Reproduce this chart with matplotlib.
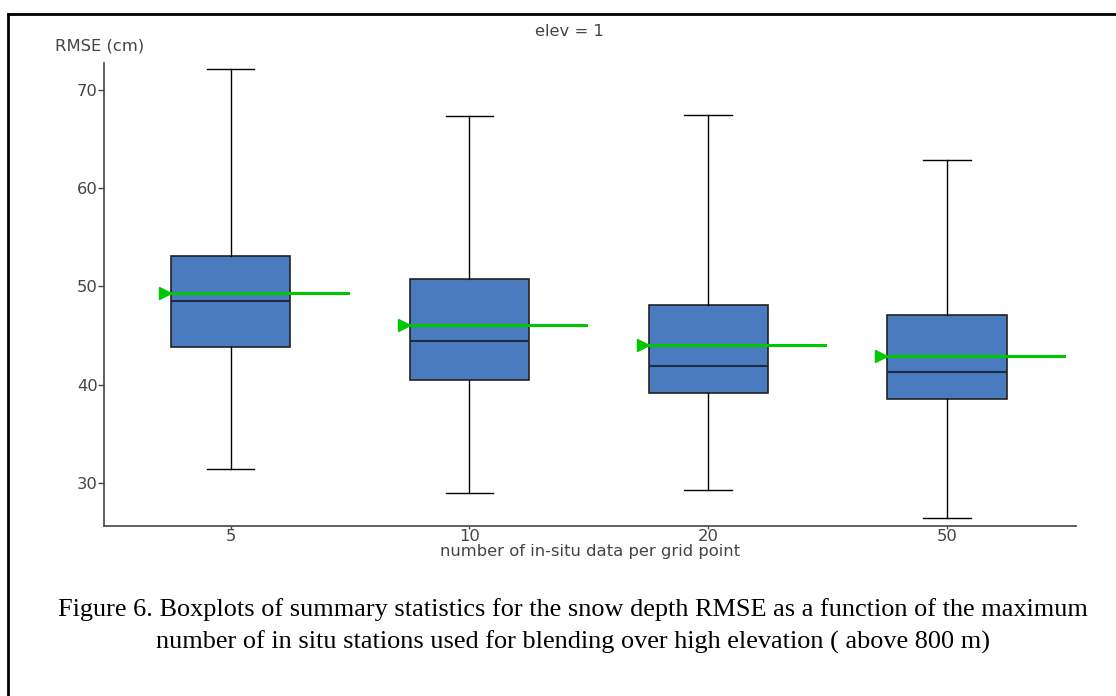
import matplotlib.pyplot as plt
from matplotlib.lines import Line2D

plt.rcParams['font.family'] = 'DejaVu Sans'

categories = ['5', '10', '20', '50']
whislo = [31.4, 29.0, 29.3, 26.4]
q1 = [43.8, 40.5, 39.1, 38.5]
med = [48.5, 44.4, 41.9, 41.3]
q3 = [53.1, 50.8, 48.1, 47.1]
whishi = [72.1, 67.4, 67.5, 62.9]
means = [49.3, 46.1, 44.0, 42.9]

text_col = '#444444'
box_col = '#4a7bbf'
fs = 11.8

fig = plt.figure(figsize=(11.16, 6.96), dpi=100)
ax = fig.add_axes([0.0932, 0.2443, 0.871, 0.6652])

stats = []
for i, c in enumerate(categories):
    stats.append(dict(label=c, whislo=whislo[i], q1=q1[i], med=med[i],
                      q3=q3[i], whishi=whishi[i], fliers=[]))
pos = list(range(len(categories)))
ax.bxp(stats, positions=pos, widths=0.5, patch_artist=True, showfliers=False,
       boxprops=dict(facecolor=box_col, edgecolor='#222222', linewidth=1.2),
       medianprops=dict(color='#1f2a44', linewidth=1.5),
       whiskerprops=dict(color='black', linewidth=1),
       capprops=dict(color='black', linewidth=1), capwidths=0.2)

# mean lines with a right-pointing marker at the left end
for p, m in zip(pos, means):
    ax.plot([p - 0.27, p + 0.49], [m, m], color='#00c800', lw=2.2, zorder=5)
    ax.plot([p - 0.275], [m], marker='>', color='#00c800', ms=8, zorder=6)

ax.set_xlim(-0.53, 3.54)
ax.set_ylim(25.6, 72.75)
ax.set_yticks([30, 40, 50, 60, 70])
ax.set_xticks(pos)
ax.set_xticklabels(categories)
for s in ['top', 'right']:
    ax.spines[s].set_visible(False)
for s in ['left', 'bottom']:
    ax.spines[s].set_color(text_col)
    ax.spines[s].set_linewidth(1.2)
ax.tick_params(colors=text_col, labelcolor=text_col, labelsize=fs, width=1)
ax.tick_params(axis='y', length=4, pad=0.5)
ax.tick_params(axis='x', length=2, pad=0.5)
ax.set_xlabel('number of in-situ data per grid point', color=text_col,
              fontsize=fs, labelpad=0)
ax.text(-0.050, 1.02, 'RMSE (cm)', transform=ax.transAxes, color=text_col,
        fontsize=fs, ha='left', va='bottom')
fig.text(0.51, 0.955, 'elev = 1', color=text_col, fontsize=fs,
         ha='center', va='center')

fig.text(0.513, 0.1005, 'Figure 6. Boxplots of summary statistics for the snow depth RMSE as a function of the maximum\n'
         'number of in situ stations used for blending over high elevation ( above 800 m)',
         family='Liberation Serif', fontsize=18.9, ha='center', va='center',
         linespacing=1.55, color='black')

# page frame (left and top edges)
fig.add_artist(Line2D([8 / 1116, 8 / 1116], [0, 1 - 14 / 696], color='black', lw=2))
fig.add_artist(Line2D([8 / 1116, 1], [1 - 14 / 696, 1 - 14 / 696], color='black', lw=2))

fig.savefig('out.png', dpi=100)
